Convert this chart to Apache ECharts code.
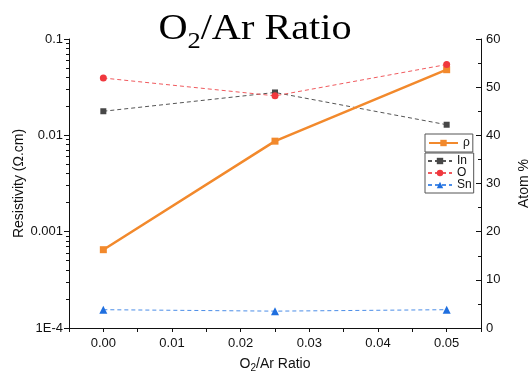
<!DOCTYPE html>
<html>
<head>
<meta charset="utf-8">
<script src="https://cdn.jsdelivr.net/npm/echarts@6/dist/echarts.min.js"></script>
<style>
  html, body { margin: 0; padding: 0; background: #fff; }
  #chart { width: 530px; height: 375px; }
</style>
</head>
<body>
<div id="chart"></div>
<script>
// O2/Ar flow ratio used for each film
const ratios = [0, 0.025, 0.05];
// Resistivity (ohm.cm), left log axis
const resistivity = [0.00065, 0.0087, 0.048];
// Composition (atom %), right axis
const atomIn = [45.0, 48.9, 42.2];
const atomO = [51.9, 48.2, 54.7];
const atomSn = [3.8, 3.5, 3.8];

// Tick labels
const xTickValues = [0, 0.01, 0.02, 0.03, 0.04, 0.05];
const xTickLabels = ['0.00', '0.01', '0.02', '0.03', '0.04', '0.05'];
const logTickLabels = ['1E-4', '0.001', '0.01', '0.1'];

// minor ticks of the log axis (2..9 in every decade), in log10 units
const logMinorTicks = [];
for (let e = -4; e < -1; e++) {
  for (let k = 2; k <= 9; k++) logMinorTicks.push(e + Math.log10(k));
}

const pairs = (ys) => ratios.map((x, i) => [x, ys[i]]);

const FONT = "'Liberation Sans', Arial, sans-serif";
const SERIF = "'Liberation Serif', 'Times New Roman', serif";
const axisColor = '#111';

const chart = echarts.init(document.getElementById('chart'), null, { renderer: 'canvas' });

const option = {
  animation: false,
  backgroundColor: '#fff',
  textStyle: { fontFamily: FONT },
  grid: { left: 69, right: 49, top: 39, bottom: 47, containLabel: false, outerBoundsMode: 'none' },
  graphic: [{
    type: 'text',
    x: 255,
    y: 7,
    scaleX: 1.15,
    style: {
      text: '{m|O}{s|2}{m|/Ar Ratio}',
      align: 'center',
      fill: '#000',
      rich: {
        m: { fontFamily: SERIF, fontSize: 35, lineHeight: 46, fill: '#000' },
        s: { fontFamily: SERIF, fontSize: 23, lineHeight: 8, verticalAlign: 'bottom', fill: '#000' }
      }
    }
  }],
  legend: [{
    data: ['ρ'],
    left: 425, top: 134,
    orient: 'vertical',
    itemWidth: 29, itemHeight: 8, itemGap: 0,
    padding: [3, 3],
    borderColor: '#555', borderWidth: 1, borderRadius: 0,
    backgroundColor: '#fff',
    textStyle: { fontFamily: FONT, fontSize: 12, color: '#111' }
  }, {
    data: ['In', 'O', 'Sn'],
    left: 425, top: 153,
    orient: 'vertical',
    itemWidth: 24, itemHeight: 8, itemGap: 0,
    padding: [2, 2],
    borderColor: '#555', borderWidth: 1, borderRadius: 0,
    backgroundColor: '#fff',
    textStyle: { fontFamily: FONT, fontSize: 12, color: '#111' }
  }],
  xAxis: {
    type: 'value',
    min: -0.005, max: 0.055, interval: 0.005,
    position: 'bottom',
    splitLine: { show: false },
    axisLine: { onZero: false, lineStyle: { color: axisColor, width: 1 } },
    axisTick: { length: 4, lineStyle: { color: axisColor } },
    axisLabel: {
      margin: 9,
      fontSize: 13, color: '#111', fontFamily: FONT,
      formatter: (v) => {
        const i = xTickValues.findIndex(t => Math.abs(t - v) < 1e-9);
        return i < 0 ? '' : xTickLabels[i];
      }
    },
    name: '{n|O}{s|2}{n|/Ar Ratio}',
    nameLocation: 'middle',
    nameGap: 27,
    nameMoveOverlap: false,
    nameTextStyle: {
      rich: {
        n: { fontFamily: FONT, fontSize: 14, lineHeight: 18, color: '#111' },
        s: { fontFamily: FONT, fontSize: 10, lineHeight: 10, verticalAlign: 'bottom', color: '#111' }
      }
    }
  },
  yAxis: [{
    type: 'log',
    logBase: 10,
    min: 1e-4, max: 0.1,
    position: 'left',
    splitLine: { show: false },
    minorTick: { show: false },
    axisLine: { show: true, onZero: false, lineStyle: { color: axisColor, width: 1 } },
    axisTick: { show: true, length: 5, lineStyle: { color: axisColor } },
    axisLabel: {
      margin: 6,
      fontSize: 13, color: '#111', fontFamily: FONT,
      formatter: (v) => logTickLabels[Math.round(Math.log10(v)) + 4]
    },
    name: 'Resistivity (Ω.cm)',
    nameLocation: 'middle',
    nameRotate: 90,
    nameGap: 43,
    nameMoveOverlap: false,
    nameTextStyle: { fontFamily: FONT, fontSize: 14, color: '#111' }
  }, {
    type: 'value',
    min: 0, max: 60, interval: 10,
    position: 'right',
    splitLine: { show: false },
    axisLine: { show: true, onZero: false, lineStyle: { color: axisColor, width: 1 } },
    axisTick: { show: true, inside: true, length: 5, lineStyle: { color: axisColor } },
    minorTick: { show: true, splitNumber: 2, length: 3, lineStyle: { color: axisColor } },
    axisLabel: { margin: 5, fontSize: 13, color: '#111', fontFamily: FONT },
    name: 'Atom %',
    nameLocation: 'middle',
    nameRotate: 90,
    nameGap: 36,
    nameMoveOverlap: false,
    nameTextStyle: { fontFamily: FONT, fontSize: 14, color: '#111' }
  }, {
    // minor ticks of the log axis, in log10 units
    type: 'value',
    min: -4, max: -1,
    position: 'left',
    offset: 0,
    splitLine: { show: false },
    axisLine: { show: false, onZero: false },
    axisTick: { show: true, customValues: logMinorTicks, length: 3, lineStyle: { color: axisColor } },
    axisLabel: { show: false, customValues: logMinorTicks }
  }],
  series: [{
    name: 'In',
    type: 'line',
    yAxisIndex: 1,
    data: pairs(atomIn),
    symbol: 'rect', symbolSize: 6,
    itemStyle: { color: '#474747' },
    lineStyle: { color: '#555555', width: 1, type: [4, 3] }
  }, {
    name: 'ρ',
    type: 'line',
    yAxisIndex: 0,
    data: pairs(resistivity),
    symbol: 'rect', symbolSize: 7,
    itemStyle: { color: '#F2892C' },
    lineStyle: { color: '#F2892C', width: 2.5 }
  }, {
    name: 'O',
    type: 'line',
    yAxisIndex: 1,
    data: pairs(atomO),
    symbol: 'circle', symbolSize: 7,
    itemStyle: { color: '#F0383E' },
    lineStyle: { color: '#F05A5E', width: 1, type: [4, 3] }
  }, {
    name: 'Sn',
    type: 'line',
    yAxisIndex: 1,
    data: pairs(atomSn),
    symbol: 'triangle', symbolSize: 8,
    itemStyle: { color: '#1F6FDF' },
    lineStyle: { color: '#4C8EE8', width: 1, type: [4, 3] }
  }]
};

chart.setOption(option);
</script>
</body>
</html>
